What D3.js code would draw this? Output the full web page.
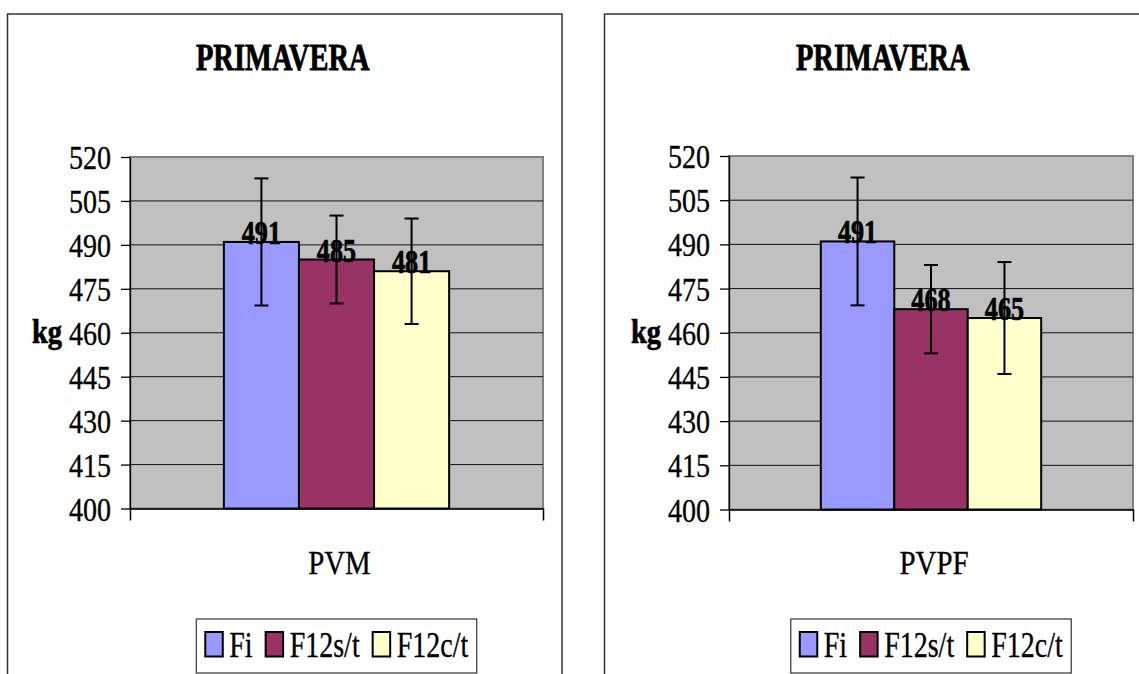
<!DOCTYPE html>
<html>
<head>
<meta charset="utf-8">
<script src="https://cdn.jsdelivr.net/npm/d3@7"></script>
<style>
  body { margin: 0; background: #fff; }
  svg text { font-family: 'Liberation Serif', 'Times New Roman', serif; fill: #000; }
</style>
</head>
<body>
<div id="chart"></div>
<script>
// Chart data
const title = 'PRIMAVERA';
const yLabel = 'kg';
const series = ['Fi', 'F12s/t', 'F12c/t'];
const categories = ['PVM', 'PVPF'];
const pvmValues = [491, 485, 481];
const pvmErrors = [21.7, 15, 18];
const pvpfValues = [491, 468, 465];
const pvpfErrors = [21.7, 15, 19];
const yTicks = [400, 415, 430, 445, 460, 475, 490, 505, 520];

const colors = ['#9999ff', '#993366', '#ffffcc'];
const W = 1139, H = 674;

const svg = d3.select('#chart').append('svg')
  .attr('width', W)
  .attr('height', H);

// squash text horizontally, like the old Excel rendering
function squeeze (sel, factor) {
  sel.each(function () {
    let len = this.getComputedTextLength();
    d3.select(this)
      .attr('textLength', len * factor)
      .attr('lengthAdjust', 'spacingAndGlyphs');
  });
}

// thicken strokes a little, the source text is heavy
function heavy (sel, w) {
  sel.style('stroke', '#000').style('stroke-width', w);
}

// one panel per category
const panels = [
  { cat: categories[0], values: pvmValues, errors: pvmErrors,
    frame: [7.5, 562], x0: 130, x1: 543, y0: 157, y1: 508.5 },
  { cat: categories[1], values: pvpfValues, errors: pvpfErrors,
    frame: [604.5, 1165], x0: 729, x1: 1133, y0: 156, y1: 509.5 }
];

panels.forEach((p) => drawPanel(p));

function drawPanel (p) {
  let g = svg.append('g');

  // outer chart frame (bottom runs off the page)
  g.append('rect')
    .attr('x', p.frame[0])
    .attr('y', 14)
    .attr('width', p.frame[1] - p.frame[0])
    .attr('height', H)
    .attr('fill', 'none')
    .attr('stroke', '#333')
    .attr('stroke-width', 1.5);

  let cx = (p.frame[0] + p.frame[1]) / 2;

  g.append('text')
    .attr('x', cx - 2)
    .attr('y', 70)
    .attr('text-anchor', 'middle')
    .style('font-size', '38px')
    .style('font-weight', 'bold')
    .call(heavy, 0.8)
    .text(title)
    .call(squeeze, 0.75);

  // scales
  let y = d3.scaleLinear()
    .domain([400, 520])
    .range([p.y1, p.y0]);

  let x = d3.scaleBand()
    .domain([p.cat])
    .range([p.x0, p.x1])
    .paddingInner(0)
    .paddingOuter(0.4167);

  let xs = d3.scaleBand()
    .domain(series)
    .range([0, x.bandwidth()]);

  // plot area
  g.append('rect')
    .attr('x', p.x0)
    .attr('y', p.y0)
    .attr('width', p.x1 - p.x0)
    .attr('height', p.y1 - p.y0)
    .attr('fill', '#c0c0c0')
    .attr('stroke', '#808080')
    .attr('stroke-width', 2);

  // gridlines
  g.selectAll('.grid')
    .data(yTicks.filter((d) => d > 400 && d < 520))
    .enter().append('line')
    .attr('class', 'grid')
    .attr('x1', p.x0)
    .attr('x2', p.x1)
    .attr('y1', (d) => y(d))
    .attr('y2', (d) => y(d))
    .attr('stroke', '#111')
    .attr('stroke-width', 1);

  // y axis
  let yAxis = g.append('g')
    .attr('transform', `translate(${p.x0},0)`)
    .call(d3.axisLeft(y).tickValues(yTicks).tickSizeInner(9).tickSizeOuter(0).tickPadding(10));

  yAxis.selectAll('path, line').attr('stroke', '#000').attr('stroke-width', 1.3);
  yAxis.selectAll('text')
    .attr('dy', '0.35em')
    .style('font-size', '33px')
    .style('font-family', "'Liberation Serif', 'Times New Roman', serif")
    .call(heavy, 0.35)
    .call(squeeze, 0.85);

  g.append('text')
    .attr('x', p.x0 - 68)
    .attr('y', y(460) + 10)
    .attr('text-anchor', 'end')
    .style('font-size', '33px')
    .style('font-weight', 'bold')
    .call(heavy, 0.7)
    .text(yLabel)
    .call(squeeze, 0.86);

  // x axis: only the line and the two outer ticks
  let xAxis = g.append('g')
    .attr('transform', `translate(0,${p.y1})`)
    .call(d3.axisBottom(x).tickValues([]).tickSizeOuter(12));
  xAxis.select('path').attr('stroke', '#000').attr('stroke-width', 1.5);

  g.append('text')
    .attr('x', x(p.cat) + x.bandwidth() / 2 + 3)
    .attr('y', 574)
    .attr('text-anchor', 'middle')
    .style('font-size', '34px')
    .call(heavy, 0.35)
    .text(p.cat)
    .call(squeeze, 0.85);

  let rows = series.map((s, i) => ({ s: s, v: p.values[i], e: p.errors[i], c: colors[i] }));
  let bx = (d) => x(p.cat) + xs(d.s);
  let mid = (d) => bx(d) + xs.bandwidth() / 2;

  // bars
  g.selectAll('.bar')
    .data(rows)
    .enter().append('rect')
    .attr('class', 'bar')
    .attr('x', bx)
    .attr('y', (d) => y(d.v))
    .attr('width', xs.bandwidth())
    .attr('height', (d) => y(400) - y(d.v))
    .attr('fill', (d) => d.c)
    .attr('stroke', '#000')
    .attr('stroke-width', 2);

  // value labels
  g.selectAll('.val')
    .data(rows)
    .enter().append('text')
    .attr('class', 'val')
    .attr('x', mid)
    .attr('y', (d) => y(d.v) + 2)
    .attr('text-anchor', 'middle')
    .style('font-size', '34px')
    .style('font-weight', 'bold')
    .call(heavy, 0.7)
    .text((d) => d.v)
    .call(squeeze, 0.77);

  // error bars
  let err = g.selectAll('.err')
    .data(rows)
    .enter().append('g')
    .attr('class', 'err')
    .attr('stroke', '#000')
    .attr('stroke-width', 2);

  err.append('line')
    .attr('x1', mid).attr('x2', mid)
    .attr('y1', (d) => y(d.v + d.e))
    .attr('y2', (d) => y(d.v - d.e));

  [1, -1].forEach((sign) => {
    err.append('line')
      .attr('x1', (d) => mid(d) - 7)
      .attr('x2', (d) => mid(d) + 7)
      .attr('y1', (d) => y(d.v + sign * d.e))
      .attr('y2', (d) => y(d.v + sign * d.e));
  });

  // legend
  let lg = g.append('g');
  let box = lg.append('rect')
    .attr('y', 619)
    .attr('height', 54)
    .attr('fill', '#fff')
    .attr('stroke', '#333')
    .attr('stroke-width', 1.2);

  let cursor = 9;
  series.forEach((s, i) => {
    lg.append('rect')
      .attr('x', cursor)
      .attr('y', 632)
      .attr('width', 17.5)
      .attr('height', 24.5)
      .attr('fill', colors[i])
      .attr('stroke', '#000')
      .attr('stroke-width', 2);

    let t = lg.append('text')
      .attr('x', cursor + 24)
      .attr('y', 657)
      .style('font-size', '35px')
      .call(heavy, 0.35)
      .text(s)
      .call(squeeze, 0.8);

    cursor += 24 + t.node().textLength.baseVal.value + 13;
  });

  let boxW = cursor - 13 + 8.5;
  box.attr('x', 0).attr('width', boxW);
  let center = (p.x0 + p.x1) / 2;
  lg.attr('transform', `translate(${center - boxW / 2},0)`);
}
</script>
</body>
</html>
